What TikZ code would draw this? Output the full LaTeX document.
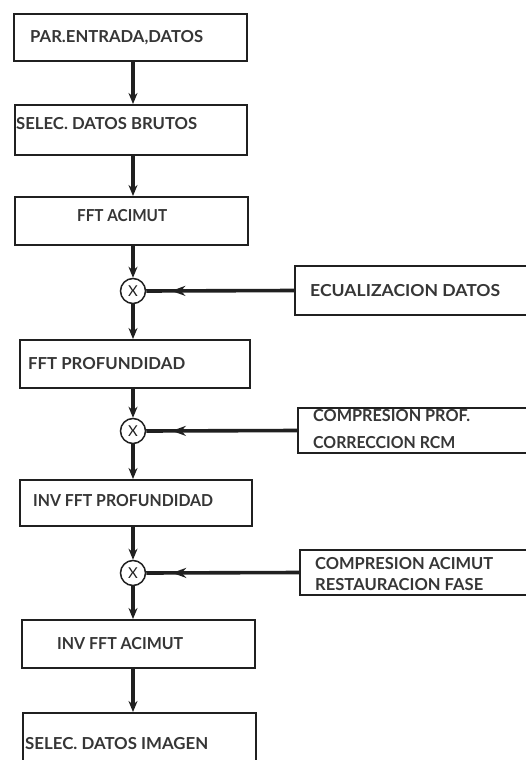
\documentclass[tikz,border=0pt]{standalone}
\usepackage{fontspec}
\setmainfont{Lato}
\usepackage{graphicx}
\usetikzlibrary{arrows.meta,decorations.markings}
\definecolor{ink}{HTML}{202020}
\newcommand{\fitw}[2]{\resizebox{#1}{\height}{#2}}
\begin{document}
\begin{tikzpicture}[x=1pt,y=-1pt,
  box/.style={draw=ink, line width=2pt, rectangle, inner sep=0pt},
  lbl/.style={anchor=base west, inner sep=0pt, font=\fontsize{16.5}{18}\selectfont\bfseries, text=ink!90},
  mix/.style={circle, draw=ink, line width=1.5pt, minimum size=25pt, inner sep=0pt, fill=white, font=\fontsize{15}{15}\selectfont, text=ink},
  flow/.style={draw=ink, line width=3.6pt, -{Stealth[length=11pt,width=9pt]}},
  feed/.style={draw=ink, line width=3.6pt, postaction={decorate},
    decoration={markings, mark=at position 0.83 with {\arrow[ink]{Stealth[length=14pt,width=10pt]}}}}
]
\clip (0,0) rectangle (526,760);
\fill[white] (0,0) rectangle (526,760);

% main column boxes
\node[box, minimum width=233pt, minimum height=47pt] (b1) at (130.5,37.5) {};
\node[box, minimum width=232pt, minimum height=50pt] (b2) at (131,130) {};
\node[box, minimum width=233pt, minimum height=48pt] (b3) at (131.5,221) {};
\node[box, minimum width=230pt, minimum height=48pt] (b4) at (135,364) {};
\node[box, minimum width=232pt, minimum height=46pt] (b5) at (136,503) {};
\node[box, minimum width=233pt, minimum height=48pt] (b6) at (138.5,644) {};
\node[box, minimum width=233pt, minimum height=62pt] (b7) at (139.5,744) {};

% side boxes (cut by the right edge)
\node[box, minimum width=250pt, minimum height=49pt] (r1) at (420,290.5) {};
\node[box, minimum width=247pt, minimum height=45pt] (r2) at (421.5,430.5) {};
\node[box, minimum width=245pt, minimum height=45pt] (r3) at (422.5,572.5) {};

% mixers
\node[mix] (c1) at (133,291) {X};
\node[mix] (c2) at (133,431) {X};
\node[mix] (c3) at (133,573) {X};

% labels
\node[lbl] (l1) at (30,43) {\fitw{173pt}{PAR.ENTRADA,DATOS}};
\node[lbl] (l2) at (16,129) {\fitw{181pt}{SELEC. DATOS BRUTOS}};
\node[lbl] (l3) at (77,221) {\fitw{90pt}{FFT ACIMUT}};
\node[lbl] (l4) at (28,369) {\fitw{157pt}{FFT PROFUNDIDAD}};
\node[lbl] (l5) at (33,506) {\fitw{180pt}{INV FFT PROFUNDIDAD}};
\node[lbl] (l6) at (57,649) {\fitw{126pt}{INV FFT ACIMUT}};
\node[lbl] (l7) at (25,749) {\fitw{183pt}{SELEC. DATOS IMAGEN}};
\node[lbl] (lr1) at (310,296) {\fitw{190pt}{ECUALIZACION DATOS}};
\node[lbl] (lr2a) at (313,421) {\fitw{157pt}{COMPRESION PROF.}};
\node[lbl] (lr2b) at (313,448) {\fitw{142pt}{CORRECCION RCM}};
\node[lbl] (lr3a) at (315,569) {\fitw{178pt}{COMPRESION ACIMUT}};
\node[lbl] (lr3b) at (315,590) {\fitw{168pt}{RESTAURACION FASE}};

% vertical flow
\draw[flow] (b1.south -| c1) -- (b2.north -| c1);
\draw[flow] (b2.south -| c1) -- (b3.north -| c1);
\draw[flow] (b3.south -| c1) -- (c1.north);
\draw[flow] (c1.south) -- (b4.north -| c1);
\draw[flow] (b4.south -| c2) -- (c2.north);
\draw[flow] (c2.south) -- (b5.north -| c2);
\draw[flow] (b5.south -| c3) -- (c3.north);
\draw[flow] (c3.south) -- (b6.north -| c3);
\draw[flow] (b6.south -| c3) -- (b7.north -| c3);

% side inputs
\draw[feed] (r1.west) -- (c1.east);
\draw[feed] (r2.west) -- (c2.east);
\draw[feed] (r3.west) -- (c3.east);
\end{tikzpicture}
\end{document}
